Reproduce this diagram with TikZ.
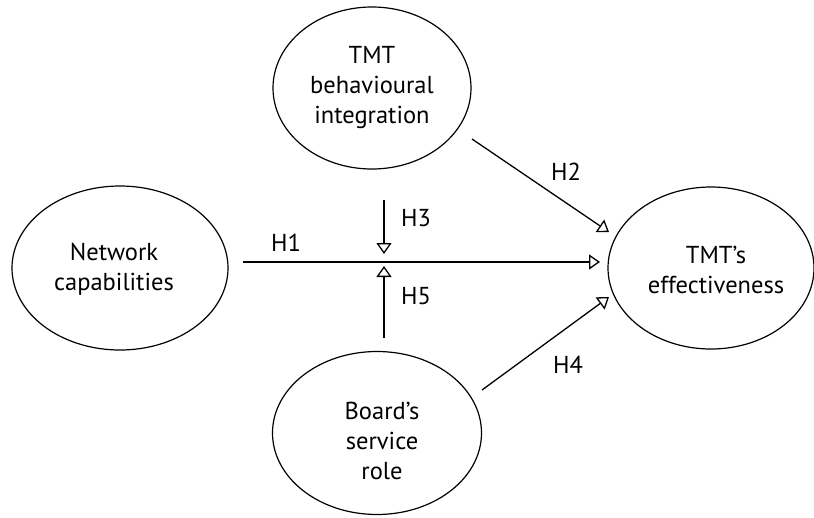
\documentclass[tikz,border=0pt]{standalone}
\usepackage{fontspec}
\setmainfont{PT Sans}
\usetikzlibrary{shapes.geometric,arrows.meta}
\begin{document}
\begin{tikzpicture}[x=1pt,y=-1pt,
  oval/.style={draw, ellipse, line width=1.2pt, inner sep=0pt},
  txt/.style={font=\fontsize{24.5}{30}\selectfont, align=center, inner sep=0pt},
  hyp/.style={line width=1.3pt, -{Triangle[open, length=11pt, width=15pt, line width=1.3pt]}},
  hlbl/.style={font=\fontsize{24.5}{28}\selectfont, inner sep=0pt}]
\useasboundingbox (0,0) rectangle (814,517);
% ellipses
\node[oval, minimum width=198pt, minimum height=162pt] (tbi) at (372,88) {};
\node[txt] (tbit) at (372,88) {TMT\\behavioural\\integration};
\node[oval, minimum width=216pt, minimum height=164pt] (net) at (120,268) {};
\node[txt] (nett) at (114,269) {Network\\capabilities};
\node[oval, minimum width=206pt, minimum height=162pt] (eff) at (711,268) {};
\node[txt] (efft) at (716,270) {TMT’s\\effectiveness};
\node[oval, minimum width=209pt, minimum height=163pt] (brd) at (377,433) {};
\node[txt] (brdt) at (382,441) {Board’s\\service\\role};
% connector end points
\coordinate (h1s) at (243,262);
\coordinate (h1e) at (600,262);
\coordinate (h3s) at (384,200);
\coordinate (h3e) at (384,254);
\coordinate (h5s) at (384,338);
\coordinate (h5e) at (384,266);
\coordinate (h2s) at (472,139);
\coordinate (h2e) at (609,232);
\coordinate (h4s) at (482,390);
\coordinate (h4e) at (609,297);
% connectors
\draw[hyp] (h1s) -- (h1e);
\draw[hyp] (h3s) -- (h3e);
\draw[hyp] (h5s) -- (h5e);
\draw[hyp] (h2s) -- (h2e);
\draw[hyp] (h4s) -- (h4e);
% labels
\node[hlbl] (l1) at (286,243) {H1};
\node[hlbl] (l2) at (566,172) {H2};
\node[hlbl] (l3) at (416,218) {H3};
\node[hlbl] (l5) at (416,296) {H5};
\node[hlbl] (l4) at (568,365) {H4};
\end{tikzpicture}
\end{document}
